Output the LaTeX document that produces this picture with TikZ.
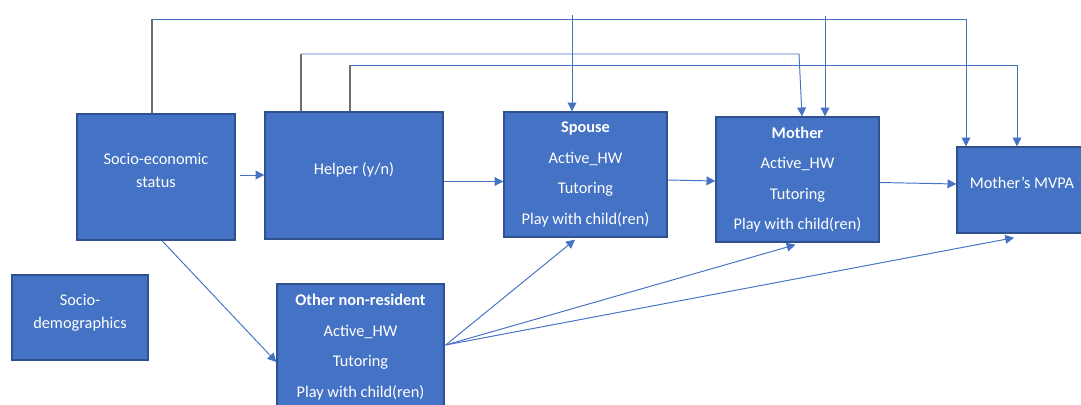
\documentclass[tikz,border=0pt]{standalone}
\usepackage{fontspec}
\setmainfont{Carlito}
\usetikzlibrary{arrows.meta, positioning, calc}
\definecolor{box_blue}{HTML}{4472C4}
\definecolor{box_edge}{HTML}{2F528F}
\definecolor{link_blue}{HTML}{4472C4}
\definecolor{stub_gray}{HTML}{6E6E6E}

\begin{document}
\begin{tikzpicture}[
    x=0.02cm, y=-0.02cm,
    % Node styles
    block/.style={
        rectangle,
        draw=box_edge,
        fill=box_blue,
        text=white,
        line width=0.8pt,
        inner sep=0pt,
        align=center,
        font=\fontsize{9.3}{13}\selectfont
    },
    actblock/.style={
        block,
        font=\fontsize{9.3}{17.4}\selectfont
    },
    link/.style={
        -{Triangle[length=5pt,width=5pt]},
        draw=link_blue,
        line width=0.55pt
    },
    stub/.style={
        draw=stub_gray,
        line width=0.8pt
    }
]
\useasboundingbox (0,0) rectangle (1081,405);

% Position nodes
\node[block, text depth=8pt, minimum width=3.16cm, minimum height=2.52cm] (ses) at (156,177) {Socio-economic\\status};
\node[block, text depth=7.5pt, minimum width=3.56cm, minimum height=2.54cm] (helper) at (354,175.5) {Helper (y/n)};
\node[actblock, minimum width=3.26cm, minimum height=2.5cm] (spouse) at (585.5,174.5) {\textbf{Spouse}\\Active\_HW\\Tutoring\\Play with child(ren)};
\node[actblock, minimum width=3.26cm, minimum height=2.5cm] (mother) at (797.5,179.5) {\textbf{Mother}\\Active\_HW\\Tutoring\\Play with child(ren)};
\node[block, text depth=8pt, minimum width=2.6cm, minimum height=1.72cm] (mvpa) at (1022,190) {Mother’s MVPA};
\node[block, text depth=6.5pt, minimum width=2.72cm, minimum height=1.7cm] (demog) at (80,317.5) {Socio-\\demographics};
\node[actblock, minimum width=3.34cm, minimum height=2.52cm] (other) at (360.5,347) {\textbf{Other non-resident}\\Active\_HW\\Tutoring\\Play with child(ren)};

% Routes over the top
\coordinate (r1) at (152,19);
\coordinate (r1e) at (966,19);
\coordinate (r2) at (301,54);
\coordinate (r2e) at (799,54);
\coordinate (r2d) at (802,0);
\coordinate (r3) at (350,65);
\coordinate (r3e) at (1017,65);
\coordinate (d1) at (572,15);
\coordinate (d2) at (825,16);

\draw[stub] (ses.north -| r1) -- (r1);
\draw[link] (r1) -- (r1e) -- (mvpa.north -| r1e);

\draw[stub] (helper.north -| r2) -- (r2);
\draw[link] (r2) -- (r2e) -- (mother.north -| r2d);

\draw[stub] (helper.north -| r3) -- (r3);
\draw[link] (r3) -- (r3e) -- (mvpa.north -| r3e);

\draw[link] (d1) -- (spouse.north -| d1);
\draw[link] (d2) -- (mother.north -| d2);

% Main chain
\draw[link] ($(ses.east)+(4,-2)$) -- ($(helper.west)+(0,-0.5)$);
\draw[link] ($(helper.east)+(0,6)$) -- ($(spouse.west)+(0,7)$);
\draw[link] ($(spouse.east)+(0,5.5)$) -- ($(mother.west)+(0,1.5)$);
\draw[link] ($(mother.east)+(0,3)$) -- ($(mvpa.west)+(0,-6)$);

\draw[link] ($(ses.south)+(6,0)$) -- ($(other.west)+(0,15)$);

% Fan from other non-resident
\coordinate (fan) at ($(other.east)+(1,-2)$);
\draw[link] (fan) -- ($(spouse.south)+(-10.5,2)$);
\draw[link] (fan) -- ($(mother.south)+(-2,2)$);
\draw[link] (fan) -- ($(mvpa.south)+(-8,4)$);

\end{tikzpicture}
\end{document}
